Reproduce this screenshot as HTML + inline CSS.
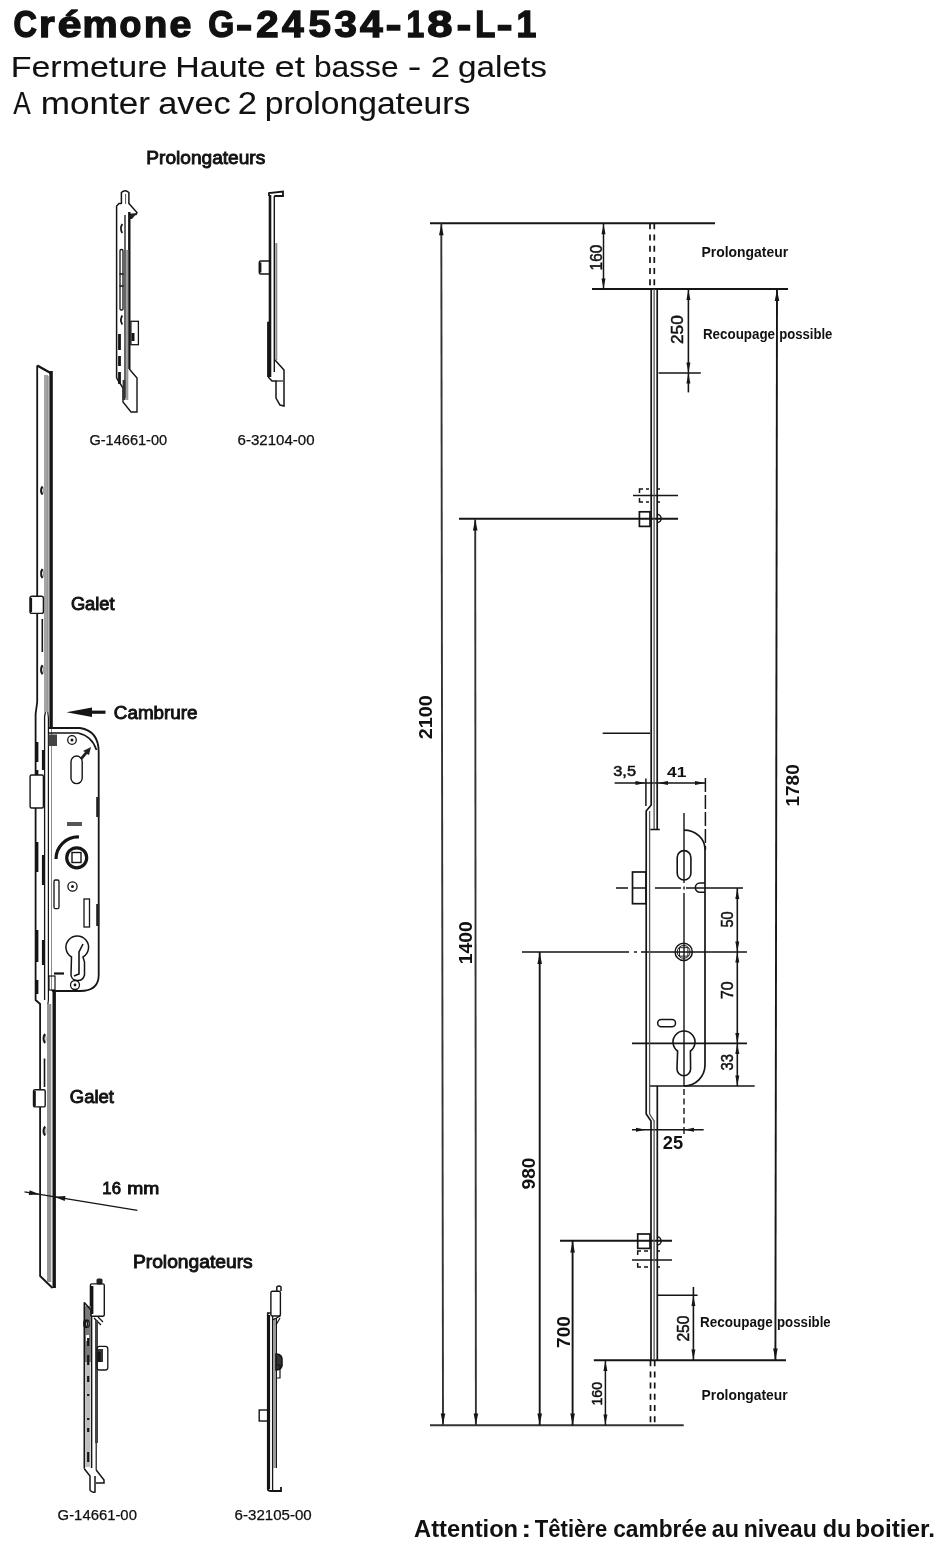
<!DOCTYPE html><html><head><meta charset="utf-8"><style>
html,body{margin:0;padding:0;background:#fff;width:940px;height:1556px;overflow:hidden}
svg{display:block;filter:grayscale(1)}
text{font-family:"Liberation Sans",sans-serif;fill:#111;-webkit-font-smoothing:antialiased}
</style></head><body>
<svg width="940" height="1556" viewBox="0 0 940 1556">
<rect width="940" height="1556" fill="#fff"/>
<text x="13.46" y="37.0" font-size="36.2" font-weight="bold" textLength="23.38" lengthAdjust="spacingAndGlyphs" stroke="#111" stroke-width="1.4">C</text>
<text x="38.96" y="37.0" font-size="36.2" font-weight="bold" textLength="15.67" lengthAdjust="spacingAndGlyphs" stroke="#111" stroke-width="1.4">r</text>
<text x="57.69" y="37.0" font-size="36.2" font-weight="bold" textLength="23.68" lengthAdjust="spacingAndGlyphs" stroke="#111" stroke-width="1.4">é</text>
<text x="82.61" y="37.0" font-size="36.2" font-weight="bold" textLength="35.12" lengthAdjust="spacingAndGlyphs" stroke="#111" stroke-width="1.4">m</text>
<text x="119.44" y="37.0" font-size="36.2" font-weight="bold" textLength="21.83" lengthAdjust="spacingAndGlyphs" stroke="#111" stroke-width="1.4">o</text>
<text x="144.10" y="37.0" font-size="36.2" font-weight="bold" textLength="23.28" lengthAdjust="spacingAndGlyphs" stroke="#111" stroke-width="1.4">n</text>
<text x="169.61" y="37.0" font-size="36.2" font-weight="bold" textLength="21.85" lengthAdjust="spacingAndGlyphs" stroke="#111" stroke-width="1.4">e</text>
<text x="208.32" y="37.0" font-size="36.2" font-weight="bold" textLength="26.01" lengthAdjust="spacingAndGlyphs" stroke="#111" stroke-width="1.4">G</text>
<text x="236.06" y="37.0" font-size="36.2" font-weight="bold" textLength="16.18" lengthAdjust="spacingAndGlyphs" stroke="#111" stroke-width="1.4">-</text>
<text x="256.21" y="37.0" font-size="36.2" font-weight="bold" textLength="22.35" lengthAdjust="spacingAndGlyphs" stroke="#111" stroke-width="1.4">2</text>
<text x="282.06" y="37.0" font-size="36.2" font-weight="bold" textLength="21.61" lengthAdjust="spacingAndGlyphs" stroke="#111" stroke-width="1.4">4</text>
<text x="308.55" y="37.0" font-size="36.2" font-weight="bold" textLength="22.40" lengthAdjust="spacingAndGlyphs" stroke="#111" stroke-width="1.4">5</text>
<text x="334.53" y="37.0" font-size="36.2" font-weight="bold" textLength="22.40" lengthAdjust="spacingAndGlyphs" stroke="#111" stroke-width="1.4">3</text>
<text x="359.94" y="37.0" font-size="36.2" font-weight="bold" textLength="22.64" lengthAdjust="spacingAndGlyphs" stroke="#111" stroke-width="1.4">4</text>
<text x="385.72" y="37.0" font-size="36.2" font-weight="bold" textLength="15.66" lengthAdjust="spacingAndGlyphs" stroke="#111" stroke-width="1.4">-</text>
<text x="406.53" y="37.0" font-size="36.2" font-weight="bold" textLength="17.68" lengthAdjust="spacingAndGlyphs" stroke="#111" stroke-width="1.4">1</text>
<text x="427.19" y="37.0" font-size="36.2" font-weight="bold" textLength="25.20" lengthAdjust="spacingAndGlyphs" stroke="#111" stroke-width="1.4">8</text>
<text x="456.66" y="37.0" font-size="36.2" font-weight="bold" textLength="14.36" lengthAdjust="spacingAndGlyphs" stroke="#111" stroke-width="1.4">-</text>
<text x="475.24" y="37.0" font-size="36.2" font-weight="bold" textLength="20.09" lengthAdjust="spacingAndGlyphs" stroke="#111" stroke-width="1.4">L</text>
<text x="496.72" y="37.0" font-size="36.2" font-weight="bold" textLength="15.66" lengthAdjust="spacingAndGlyphs" stroke="#111" stroke-width="1.4">-</text>
<text x="516.49" y="37.0" font-size="36.2" font-weight="bold" textLength="19.83" lengthAdjust="spacingAndGlyphs" stroke="#111" stroke-width="1.4">1</text>
<text x="10.71" y="76.5" font-size="30" textLength="156.71" lengthAdjust="spacingAndGlyphs" stroke="#111" stroke-width="0.1">Fermeture</text>
<text x="175.32" y="76.5" font-size="30" textLength="90.46" lengthAdjust="spacingAndGlyphs" stroke="#111" stroke-width="0.1">Haute</text>
<text x="274.47" y="76.5" font-size="30" textLength="30.56" lengthAdjust="spacingAndGlyphs" stroke="#111" stroke-width="0.1">et</text>
<text x="313.92" y="76.5" font-size="30" textLength="84.66" lengthAdjust="spacingAndGlyphs" stroke="#111" stroke-width="0.1">basse</text>
<text x="407.70" y="76.5" font-size="30" textLength="13.59" lengthAdjust="spacingAndGlyphs" stroke="#111" stroke-width="0.1">-</text>
<text x="430.67" y="76.5" font-size="30" textLength="19.29" lengthAdjust="spacingAndGlyphs" stroke="#111" stroke-width="0.1">2</text>
<text x="458.11" y="76.5" font-size="30" textLength="88.76" lengthAdjust="spacingAndGlyphs" stroke="#111" stroke-width="0.1">galets</text>
<text x="13.20" y="113.8" font-size="30.5" textLength="17.48" lengthAdjust="spacingAndGlyphs" stroke="#111" stroke-width="0.1">A</text>
<text x="40.70" y="113.8" font-size="30.5" textLength="109.34" lengthAdjust="spacingAndGlyphs" stroke="#111" stroke-width="0.1">monter</text>
<text x="158.19" y="113.8" font-size="30.5" textLength="72.51" lengthAdjust="spacingAndGlyphs" stroke="#111" stroke-width="0.1">avec</text>
<text x="237.70" y="113.8" font-size="30.5" textLength="19.26" lengthAdjust="spacingAndGlyphs" stroke="#111" stroke-width="0.1">2</text>
<text x="264.80" y="113.8" font-size="30.5" textLength="205.46" lengthAdjust="spacingAndGlyphs" stroke="#111" stroke-width="0.1">prolongateurs</text>
<text x="146.33" y="163.8" font-size="18.3" textLength="118.93" lengthAdjust="spacingAndGlyphs" stroke="#111" stroke-width="0.9">Prolongateurs</text>
<text x="89.45" y="445.2" font-size="14" textLength="77.74" lengthAdjust="spacingAndGlyphs" stroke="#111" stroke-width="0.25">G-14661-00</text>
<text x="237.53" y="445.2" font-size="14" textLength="77.01" lengthAdjust="spacingAndGlyphs" stroke="#111" stroke-width="0.25">6-32104-00</text>
<text x="70.90" y="609.6" font-size="17.7" textLength="43.65" lengthAdjust="spacingAndGlyphs" stroke="#111" stroke-width="0.9">Galet</text>
<text x="113.89" y="718.6" font-size="18" textLength="83.63" lengthAdjust="spacingAndGlyphs" stroke="#111" stroke-width="0.9">Cambrure</text>
<text x="69.89" y="1103.4" font-size="17.7" textLength="44.06" lengthAdjust="spacingAndGlyphs" stroke="#111" stroke-width="0.9">Galet</text>
<text x="102.37" y="1193.8" font-size="17" textLength="18.58" lengthAdjust="spacingAndGlyphs" stroke="#111" stroke-width="0.9">16</text>
<text x="127.23" y="1193.8" font-size="17" textLength="32.09" lengthAdjust="spacingAndGlyphs" stroke="#111" stroke-width="0.9">mm</text>
<text x="132.92" y="1268.2" font-size="18.3" textLength="119.85" lengthAdjust="spacingAndGlyphs" stroke="#111" stroke-width="0.9">Prolongateurs</text>
<text x="57.64" y="1520.3" font-size="14" textLength="79.27" lengthAdjust="spacingAndGlyphs" stroke="#111" stroke-width="0.25">G-14661-00</text>
<text x="234.63" y="1520.3" font-size="14" textLength="77.11" lengthAdjust="spacingAndGlyphs" stroke="#111" stroke-width="0.25">6-32105-00</text>
<text x="414.08" y="1537.2" font-size="24" font-weight="bold" textLength="104.03" lengthAdjust="spacingAndGlyphs">Attention</text>
<text x="521.37" y="1537.2" font-size="24" font-weight="bold" textLength="10.05" lengthAdjust="spacingAndGlyphs">:</text>
<text x="534.77" y="1537.2" font-size="24" font-weight="bold" textLength="72.39" lengthAdjust="spacingAndGlyphs">Têtière</text>
<text x="613.17" y="1537.2" font-size="24" font-weight="bold" textLength="93.64" lengthAdjust="spacingAndGlyphs">cambrée</text>
<text x="711.69" y="1537.2" font-size="24" font-weight="bold" textLength="27.17" lengthAdjust="spacingAndGlyphs">au</text>
<text x="743.66" y="1537.2" font-size="24" font-weight="bold" textLength="73.11" lengthAdjust="spacingAndGlyphs">niveau</text>
<text x="822.82" y="1537.2" font-size="24" font-weight="bold" textLength="28.61" lengthAdjust="spacingAndGlyphs">du</text>
<text x="855.18" y="1537.2" font-size="24" font-weight="bold" textLength="79.83" lengthAdjust="spacingAndGlyphs">boitier.</text>
<text x="701.44" y="256.5" font-size="14.5" font-weight="bold" textLength="86.76" lengthAdjust="spacingAndGlyphs">Prolongateur</text>
<text x="702.96" y="338.5" font-size="14" font-weight="bold" textLength="72.09" lengthAdjust="spacingAndGlyphs">Recoupage</text>
<text x="779.18" y="338.5" font-size="14" font-weight="bold" textLength="53.22" lengthAdjust="spacingAndGlyphs">possible</text>
<text x="700.06" y="1327" font-size="14" font-weight="bold" textLength="72.70" lengthAdjust="spacingAndGlyphs">Recoupage</text>
<text x="776.97" y="1327" font-size="14" font-weight="bold" textLength="53.73" lengthAdjust="spacingAndGlyphs">possible</text>
<text x="701.55" y="1400.3" font-size="14.5" font-weight="bold" textLength="86.05" lengthAdjust="spacingAndGlyphs">Prolongateur</text>
<line x1="430" y1="223.3" x2="715" y2="223.3" stroke="#151515" stroke-width="1.9"/>
<line x1="592" y1="289" x2="788" y2="289" stroke="#151515" stroke-width="1.9"/>
<line x1="633" y1="495.5" x2="678" y2="495.5" stroke="#151515" stroke-width="1.6"/>
<line x1="459" y1="518.7" x2="678" y2="518.7" stroke="#151515" stroke-width="1.9"/>
<line x1="602.7" y1="733.2" x2="650.3" y2="733.2" stroke="#151515" stroke-width="1.6"/>
<line x1="614.6" y1="783" x2="705.4" y2="783" stroke="#151515" stroke-width="1.5"/>
<path d="M616,888 L628,888 M633,888 L647,888 M655,888 L681,888 M686,888 L743,888" stroke="#151515" stroke-width="1.5" fill="none" />
<path d="M522,952 L629,952 M634,952 L637,952 M641,952 L747,952" stroke="#151515" stroke-width="1.6" fill="none" />
<line x1="632" y1="1043.4" x2="747" y2="1043.4" stroke="#151515" stroke-width="1.6"/>
<line x1="650" y1="1086" x2="754.7" y2="1086" stroke="#151515" stroke-width="1.6"/>
<line x1="632" y1="1129.7" x2="703.7" y2="1129.7" stroke="#151515" stroke-width="1.5"/>
<line x1="560" y1="1240.7" x2="672" y2="1240.7" stroke="#151515" stroke-width="1.9"/>
<line x1="632" y1="1260" x2="672" y2="1260" stroke="#151515" stroke-width="1.6"/>
<line x1="657" y1="1295.2" x2="697.6" y2="1295.2" stroke="#151515" stroke-width="1.6"/>
<line x1="593.8" y1="1360.2" x2="786" y2="1360.2" stroke="#151515" stroke-width="1.9"/>
<line x1="430" y1="1425.3" x2="683.7" y2="1425.3" stroke="#333" stroke-width="1.9"/>
<line x1="441.3" y1="223.3" x2="443" y2="1425.3" stroke="#333" stroke-width="1.9"/>
<polygon points="441.3,224.3 439.0,235.3 443.6,235.3" fill="#151515"/>
<polygon points="443.0,1424.5 440.7,1413.5 445.3,1413.5" fill="#151515"/>
<line x1="475.2" y1="518.7" x2="475.9" y2="1425.3" stroke="#333" stroke-width="1.9"/>
<polygon points="475.2,519.5 472.9,530.5 477.5,530.5" fill="#151515"/>
<polygon points="475.9,1424.5 473.6,1413.5 478.2,1413.5" fill="#151515"/>
<line x1="539.7" y1="952" x2="539.7" y2="1425.3" stroke="#151515" stroke-width="1.9"/>
<polygon points="539.7,953.0 537.4,964.0 542.0,964.0" fill="#151515"/>
<polygon points="539.7,1424.5 537.4,1413.5 542.0,1413.5" fill="#151515"/>
<line x1="572.6" y1="1240.7" x2="572.6" y2="1425.3" stroke="#151515" stroke-width="1.9"/>
<polygon points="572.6,1241.5 570.3,1252.5 574.9,1252.5" fill="#151515"/>
<polygon points="572.6,1424.5 570.3,1413.5 574.9,1413.5" fill="#151515"/>
<line x1="777" y1="289" x2="775.4" y2="1360.2" stroke="#151515" stroke-width="1.9"/>
<polygon points="777.0,290.0 774.7,301.0 779.3,301.0" fill="#151515"/>
<polygon points="775.4,1359.5 773.1,1348.5 777.7,1348.5" fill="#151515"/>
<line x1="603.5" y1="223.3" x2="603.5" y2="289" stroke="#151515" stroke-width="1.5"/>
<polygon points="603.5,224.3 601.5,234.3 605.5,234.3" fill="#151515"/>
<polygon points="603.5,288.5 601.5,278.5 605.5,278.5" fill="#151515"/>
<line x1="688.4" y1="289" x2="688.4" y2="392.4" stroke="#151515" stroke-width="1.6"/>
<polygon points="688.4,290.0 686.4,300.0 690.4,300.0" fill="#151515"/>
<polygon points="688.4,372.5 686.4,362.5 690.4,362.5" fill="#151515"/>
<polygon points="688.4,373.5 686.4,383.5 690.4,383.5" fill="#151515"/>
<line x1="658.6" y1="373" x2="700.8" y2="373" stroke="#151515" stroke-width="1.6"/>
<line x1="693.4" y1="1287" x2="693.4" y2="1360.2" stroke="#151515" stroke-width="1.6"/>
<polygon points="693.4,1296.0 691.4,1306.0 695.4,1306.0" fill="#151515"/>
<polygon points="693.4,1359.5 691.4,1349.5 695.4,1349.5" fill="#151515"/>
<line x1="605.4" y1="1360.2" x2="605.4" y2="1425.3" stroke="#151515" stroke-width="1.5"/>
<polygon points="605.4,1361.0 603.4,1371.0 607.4,1371.0" fill="#151515"/>
<polygon points="605.4,1424.5 603.4,1414.5 607.4,1414.5" fill="#151515"/>
<line x1="737.3" y1="888" x2="737.3" y2="1086" stroke="#151515" stroke-width="1.6"/>
<polygon points="737.3,889.0 735.3,899.0 739.3,899.0" fill="#151515"/>
<polygon points="737.3,951.5 735.3,941.5 739.3,941.5" fill="#151515"/>
<polygon points="737.3,952.5 735.3,962.5 739.3,962.5" fill="#151515"/>
<polygon points="737.3,1042.9 735.3,1032.9 739.3,1032.9" fill="#151515"/>
<polygon points="737.3,1043.9 735.3,1053.9 739.3,1053.9" fill="#151515"/>
<polygon points="737.3,1085.5 735.3,1075.5 739.3,1075.5" fill="#151515"/>
<polygon points="645.5,783.0 635.5,781.0 635.5,785.0" fill="#151515"/>
<polygon points="658.0,783.0 668.0,781.0 668.0,785.0" fill="#151515"/>
<polygon points="705.0,783.0 695.0,781.0 695.0,785.0" fill="#151515"/>
<polygon points="646.0,1129.7 636.0,1127.7 636.0,1131.7" fill="#151515"/>
<polygon points="684.0,1129.7 694.0,1127.7 694.0,1131.7" fill="#151515"/>
<line x1="645.9" y1="778.6" x2="645.9" y2="806" stroke="#151515" stroke-width="1.5"/>
<line x1="705.4" y1="778" x2="705.4" y2="850" stroke="#151515" stroke-width="1.5" stroke-dasharray="14,3"/>
<path d="M684,813 L684,883 M684,886.5 L684,889.5 M684,893 L684,1086 M684,1089 L684,1095 M684,1098.5 L684,1104.5 M684,1108 L684,1114 M684,1117.5 L684,1123.5 M684,1127 L684,1134" stroke="#151515" stroke-width="1.4" fill="none" />
<line x1="650" y1="223.3" x2="650" y2="289" stroke="#151515" stroke-width="1.7" stroke-dasharray="6,5.2"/>
<line x1="654.3" y1="223.3" x2="654.3" y2="289" stroke="#151515" stroke-width="1.7" stroke-dasharray="6,5.2"/>
<line x1="650.5" y1="1360.2" x2="650.5" y2="1425.3" stroke="#151515" stroke-width="1.7" stroke-dasharray="6,5.2"/>
<line x1="654.7" y1="1360.2" x2="654.7" y2="1425.3" stroke="#151515" stroke-width="1.7" stroke-dasharray="6,5.2"/>
<path d="M651.2,289 L651.2,805 L646.2,811 L646.2,1114 L651,1121 L651,1360.2" stroke="#151515" stroke-width="1.7" fill="none" />
<path d="M657.2,289 L657.2,829.5" stroke="#151515" stroke-width="1.7" fill="none" />
<path d="M650.3,829.5 L659.8,829.5" stroke="#151515" stroke-width="1.6" fill="none" />
<path d="M649.6,811 L649.6,1114 L654.1,1121 L654.1,1360" stroke="#555" stroke-width="1.3" fill="none" />
<line x1="654.1" y1="289" x2="654.1" y2="829" stroke="#555" stroke-width="1.3"/>
<line x1="657.3" y1="1086" x2="657.3" y2="1360.2" stroke="#151515" stroke-width="1.7"/>
<path d="M684,830.2 A21,19 0 0 1 705,849 L705,1065 A21,21 0 0 1 684,1086" stroke="#151515" stroke-width="1.7" fill="none" />
<rect x="677.2" y="850.6" width="13.7" height="29.4" rx="6.8" fill="none" stroke="#151515" stroke-width="1.6"/>
<path d="M705,883 L700,883 A4.6,4.6 0 0 0 700,892.3 L705,892.3" stroke="#151515" stroke-width="1.5" fill="none" />
<circle cx="683.7" cy="951.9" r="8.6" fill="none" stroke="#151515" stroke-width="1.5"/>
<circle cx="683.7" cy="951.9" r="6.4" fill="none" stroke="#151515" stroke-width="1"/>
<rect x="679.5" y="947.7" width="8.4" height="8.4" fill="none" stroke="#151515" stroke-width="0.9"/>
<rect x="657.7" y="1019.6" width="17.8" height="7.1" rx="3.5" fill="none" stroke="#151515" stroke-width="1.5"/>
<path d="M677.6,1051 A11,11 0 1 1 690.4,1051 L690.6,1069 A6.8,6.8 0 0 1 677,1069 Z" stroke="#151515" stroke-width="1.6" fill="none" />
<rect x="639.4" y="511.8" width="10.6" height="14.6" fill="none" stroke="#151515" stroke-width="1.7"/>
<path d="M639.5,493 L639.5,489 L643,489 M646,489 L649,489 M657.5,489 L660,489 M639.5,498 L639.5,502 L643,502 M646,502 L649,502 M657.5,502 L660,502" stroke="#151515" stroke-width="1.5" fill="none" />
<path d="M657.5,514.5 A3.6,4 0 0 1 657.5,522.5" stroke="#151515" stroke-width="1.5" fill="none" />
<rect x="632.5" y="872" width="13.5" height="31.7" fill="none" stroke="#151515" stroke-width="1.7"/>
<rect x="637.7" y="1234" width="12.3" height="14.4" fill="none" stroke="#151515" stroke-width="1.7"/>
<path d="M637.7,1255 L637.7,1251 L641,1251 M644,1251 L648,1251 M657.5,1251 L660,1251 M637.7,1263 L637.7,1267 L641,1267 M644,1267 L648,1267 M657.5,1267 L660,1267" stroke="#151515" stroke-width="1.5" fill="none" />
<path d="M657.5,1237 A3.6,4 0 0 1 657.5,1245" stroke="#151515" stroke-width="1.5" fill="none" />
<text transform="translate(602.4,270.38) rotate(-90)" x="0" y="0" font-size="16" textLength="25.54" lengthAdjust="spacingAndGlyphs" stroke="#111" stroke-width="0.5">160</text>
<text transform="translate(683.2,344.01) rotate(-90)" x="0" y="0" font-size="16" textLength="28.76" lengthAdjust="spacingAndGlyphs" stroke="#111" stroke-width="0.5">250</text>
<text transform="translate(432,739.37) rotate(-90)" x="0" y="0" font-size="18.5" font-weight="bold" textLength="44.00" lengthAdjust="spacingAndGlyphs">2100</text>
<text transform="translate(472,964.18) rotate(-90)" x="0" y="0" font-size="18.5" font-weight="bold" textLength="42.99" lengthAdjust="spacingAndGlyphs">1400</text>
<text transform="translate(535.4,1189.44) rotate(-90)" x="0" y="0" font-size="18.5" font-weight="bold" textLength="31.81" lengthAdjust="spacingAndGlyphs">980</text>
<text transform="translate(570,1347.98) rotate(-90)" x="0" y="0" font-size="18.5" font-weight="bold" textLength="31.94" lengthAdjust="spacingAndGlyphs">700</text>
<text transform="translate(799,806.56) rotate(-90)" x="0" y="0" font-size="18.5" font-weight="bold" textLength="42.36" lengthAdjust="spacingAndGlyphs">1780</text>
<text transform="translate(733.4,927.57) rotate(-90)" x="0" y="0" font-size="16" textLength="16.18" lengthAdjust="spacingAndGlyphs" stroke="#111" stroke-width="0.5">50</text>
<text transform="translate(733.4,999.05) rotate(-90)" x="0" y="0" font-size="16" textLength="17.72" lengthAdjust="spacingAndGlyphs" stroke="#111" stroke-width="0.5">70</text>
<text transform="translate(733.4,1070.38) rotate(-90)" x="0" y="0" font-size="16" textLength="16.50" lengthAdjust="spacingAndGlyphs" stroke="#111" stroke-width="0.5">33</text>
<text transform="translate(689.3,1341.61) rotate(-90)" x="0" y="0" font-size="16.5" textLength="26.11" lengthAdjust="spacingAndGlyphs" stroke="#111" stroke-width="0.5">250</text>
<text transform="translate(602.1,1405.53) rotate(-90)" x="0" y="0" font-size="15.5" textLength="23.69" lengthAdjust="spacingAndGlyphs" stroke="#111" stroke-width="0.5">160</text>
<text x="613.24" y="776" font-size="14.5" textLength="22.77" lengthAdjust="spacingAndGlyphs" stroke="#111" stroke-width="0.5">3,5</text>
<text x="667.11" y="777" font-size="15" font-weight="bold" textLength="19.24" lengthAdjust="spacingAndGlyphs">41</text>
<text x="662.85" y="1149.4" font-size="17.5" font-weight="bold" textLength="20.34" lengthAdjust="spacingAndGlyphs">25</text>
<path d="M37.2,365.5 L51.5,373.5" stroke="#151515" stroke-width="2.4" fill="none" />
<path d="M37.2,365.5 L37.2,702 L35.6,714 L35.6,1000 L40.1,1004 L40.1,1276 L52.5,1288" stroke="#151515" stroke-width="1.8" fill="none" />
<rect x="44" y="375" width="4" height="337" fill="#a4a4a4"/>
<line x1="48.2" y1="376" x2="48.2" y2="712" stroke="#666" stroke-width="0.7"/>
<line x1="51.1" y1="371" x2="51.1" y2="728" stroke="#151515" stroke-width="3.4"/>
<path d="M45.5,712 L44.6,716 L44.6,1000" stroke="#151515" stroke-width="1.3" fill="none" />
<path d="M47.8,712 L48.4,718 L48.4,1000 L47.9,1004 L47.9,1280" stroke="#151515" stroke-width="1.2" fill="none" />
<line x1="51.5" y1="728" x2="51.5" y2="991" stroke="#8a8a8a" stroke-width="1.0"/>
<rect x="47" y="1004" width="4.3" height="278" fill="#959595"/>
<line x1="54.2" y1="991" x2="54.2" y2="1288" stroke="#151515" stroke-width="3.4"/>
<path d="M49,728 L80,728 Q98.7,731 98.7,752 L98.7,975 Q98.7,991 80,991 L52,991" stroke="#151515" stroke-width="1.8" fill="none" />
<path d="M49,733 L78,733 Q92,736 96.5,750" stroke="#151515" stroke-width="1.7" fill="none" />
<rect x="48.5" y="734.5" width="8.5" height="11.5" fill="#444"/>
<circle cx="72" cy="740" r="4.3" fill="none" stroke="#151515" stroke-width="1.3"/><circle cx="72" cy="740" r="1.5" fill="#151515"/>
<rect x="71" y="756" width="11.2" height="27.6" rx="5.6" fill="none" stroke="#151515" stroke-width="1.4"/>
<polygon points="80,758 85,752 83,751 91,747 89,755 87,754 82,760" fill="#222"/>
<rect x="67" y="822" width="15" height="4" fill="#555"/>
<rect x="96.2" y="797" width="3" height="20" fill="#222"/>
<rect x="96.2" y="904" width="3" height="22" fill="#222"/>
<circle cx="76.7" cy="857.8" r="10" fill="none" stroke="#151515" stroke-width="3.2"/>
<rect x="72" y="852.5" width="9" height="10" fill="none" stroke="#151515" stroke-width="1.4"/>
<path d="M56,859 A22,22 0 0 1 79,837" stroke="#151515" stroke-width="3.2" fill="none" />
<rect x="54" y="880" width="5" height="28.7" rx="1.5" fill="none" stroke="#151515" stroke-width="1.3"/>
<circle cx="72.5" cy="886.5" r="4.6" fill="none" stroke="#151515" stroke-width="1.3"/><circle cx="72.5" cy="886.5" r="1.5" fill="#151515"/>
<rect x="84" y="899" width="5.5" height="28" fill="none" stroke="#151515" stroke-width="1.3"/>
<path d="M71.5,957 A11.3,11.3 0 1 1 83,957 L84.5,962 L84.5,975 Q83,981 77,980.5 Q71.5,980 71,975 Z" stroke="#151515" stroke-width="1.5" fill="none" />
<path d="M83,944 L79,952 L79,974 L74,976" stroke="#151515" stroke-width="1.6" fill="none" />
<circle cx="75" cy="985" r="4.5" fill="none" stroke="#151515" stroke-width="1.3"/><circle cx="75" cy="985" r="1.4" fill="#151515"/>
<path d="M54,973.5 L64,973.5" stroke="#151515" stroke-width="2.2" fill="none" />
<rect x="49" y="976" width="6" height="14" fill="none" stroke="#151515" stroke-width="1.2"/>
<ellipse cx="42" cy="490.5" rx="1.6" ry="4" fill="none" stroke="#999" stroke-width="1.0"/>
<path d="M42.5,486.5 Q39.8,490.5 42.5,494.5" stroke="#151515" stroke-width="1.9" fill="none" />
<ellipse cx="42" cy="573.6" rx="1.6" ry="4.5" fill="none" stroke="#999" stroke-width="1.0"/>
<path d="M42.5,569.1 Q39.8,573.6 42.5,578.1" stroke="#151515" stroke-width="1.9" fill="none" />
<ellipse cx="42" cy="669.7" rx="1.6" ry="4.5" fill="none" stroke="#999" stroke-width="1.0"/>
<path d="M42.5,665.2 Q39.8,669.7 42.5,674.2" stroke="#151515" stroke-width="1.9" fill="none" />
<ellipse cx="44.5" cy="1038.6" rx="1.6" ry="4.5" fill="none" stroke="#999" stroke-width="1.0"/>
<path d="M45.0,1034.1 Q42.3,1038.6 45.0,1043.1" stroke="#151515" stroke-width="1.9" fill="none" />
<ellipse cx="44.5" cy="1131" rx="1.6" ry="4.5" fill="none" stroke="#999" stroke-width="1.0"/>
<path d="M45.0,1126.5 Q42.3,1131 45.0,1135.5" stroke="#151515" stroke-width="1.9" fill="none" />
<line x1="42.3" y1="619" x2="42.3" y2="652" stroke="#151515" stroke-width="1.6"/>
<line x1="44.5" y1="1058.5" x2="44.5" y2="1087" stroke="#151515" stroke-width="1.6"/>
<line x1="37.2" y1="742" x2="37.2" y2="762" stroke="#151515" stroke-width="2.4"/>
<line x1="37.2" y1="770" x2="37.2" y2="790" stroke="#151515" stroke-width="2.4"/>
<line x1="37.2" y1="842" x2="37.2" y2="872" stroke="#151515" stroke-width="2.4"/>
<line x1="37.2" y1="930" x2="37.2" y2="962" stroke="#151515" stroke-width="2.4"/>
<line x1="37.2" y1="980" x2="37.2" y2="994" stroke="#151515" stroke-width="2.4"/>
<line x1="43" y1="750" x2="43" y2="770" stroke="#151515" stroke-width="2.2"/>
<line x1="43" y1="855" x2="43" y2="885" stroke="#151515" stroke-width="2.2"/>
<line x1="43" y1="940" x2="43" y2="965" stroke="#151515" stroke-width="2.2"/>
<rect x="30" y="596.2" width="13.4" height="17.2" rx="2" fill="#fff" stroke="#151515" stroke-width="1.4"/>
<line x1="31" y1="598" x2="31" y2="612" stroke="#151515" stroke-width="2.2"/>
<rect x="30.1" y="775" width="13.3" height="33" rx="1.5" fill="#fff" stroke="#151515" stroke-width="1.4"/>
<rect x="33.5" y="1089.8" width="11.7" height="17.1" rx="1.5" fill="#fff" stroke="#151515" stroke-width="1.4"/>
<line x1="34.5" y1="1091" x2="34.5" y2="1106" stroke="#151515" stroke-width="2.6"/>
<line x1="24.5" y1="1191.9" x2="137.4" y2="1210.4" stroke="#151515" stroke-width="1.4"/>
<polygon points="40.1,1194.5 28.8,1195.1 29.6,1190.2" fill="#151515"/>
<polygon points="54.2,1196.8 65.5,1196.1 64.7,1201.0" fill="#151515"/>
<line x1="85" y1="712.2" x2="105.5" y2="712.2" stroke="#151515" stroke-width="3.2"/>
<polygon points="66.4,712.2 92,707.5 92,717" fill="#151515"/>
<path d="M121.4,204 L121.4,192.5 Q125,189 128.9,192.5 L128.9,204" stroke="#151515" stroke-width="1.5" fill="none" />
<line x1="125.6" y1="194" x2="125.6" y2="204" stroke="#555" stroke-width="1.0"/>
<path d="M116.6,378 L116.6,206 L119,203.5 L121.4,203.5" stroke="#151515" stroke-width="1.5" fill="none" />
<path d="M128.9,203.5 L137,212.5 L136,214.5 L129.3,214.5" stroke="#151515" stroke-width="1.5" fill="none" />
<polygon points="129.3,214 137,213 132,219 129.3,219" fill="#222"/>
<line x1="129.3" y1="212" x2="129.3" y2="369" stroke="#151515" stroke-width="2.4"/>
<line x1="125" y1="215" x2="125" y2="398" stroke="#151515" stroke-width="1.3"/>
<line x1="127.2" y1="250" x2="127.2" y2="400" stroke="#9a9a9a" stroke-width="2.2"/>
<path d="M116.6,378 L123,388 L123,402 L131,412 L137,412 L137,378 L129.3,369" stroke="#151515" stroke-width="1.4" fill="none" />
<rect x="130.9" y="321.3" width="7.5" height="23.4" fill="none" stroke="#151515" stroke-width="1.3"/>
<line x1="133" y1="333" x2="133" y2="341" stroke="#151515" stroke-width="3"/>
<line x1="119.5" y1="334" x2="119.5" y2="350" stroke="#151515" stroke-width="2.8"/>
<line x1="119.5" y1="356" x2="119.5" y2="366" stroke="#151515" stroke-width="2.8"/>
<line x1="119.5" y1="372" x2="119.5" y2="384" stroke="#151515" stroke-width="2.8"/>
<path d="M122.3,224 Q119.5,228.5 122.3,233" stroke="#151515" stroke-width="1.8" fill="none" />
<rect x="120" y="249.5" width="3" height="60.5" rx="1.2" fill="none" stroke="#151515" stroke-width="1.3"/>
<path d="M119.5,274 L123.5,274 M119.5,286 L123.5,286" stroke="#151515" stroke-width="1.4" fill="none" />
<path d="M122.3,315.5 Q119.5,320 122.3,324.5" stroke="#151515" stroke-width="1.8" fill="none" />
<line x1="124" y1="380" x2="124" y2="400" stroke="#333" stroke-width="2.8"/>
<path d="M269,196 L269,193 L283,191.6 L283,196 L274.3,196" stroke="#151515" stroke-width="1.8" fill="none" />
<line x1="270" y1="195" x2="270" y2="377" stroke="#151515" stroke-width="2.6"/>
<line x1="274.3" y1="196" x2="274.3" y2="372" stroke="#151515" stroke-width="1.4"/>
<line x1="276.3" y1="243" x2="276.3" y2="360" stroke="#8a8a8a" stroke-width="2.0"/>
<line x1="268.2" y1="321.7" x2="268.2" y2="377" stroke="#151515" stroke-width="2.2"/>
<rect x="259.3" y="261" width="10.7" height="13" rx="1.5" fill="none" stroke="#151515" stroke-width="1.5"/>
<line x1="260.3" y1="262.5" x2="260.3" y2="272.5" stroke="#151515" stroke-width="2.2"/>
<path d="M268.2,377 L272,381 L276,381 L276,398 L280,405 L284,406 L284,370 L275,360" stroke="#151515" stroke-width="1.5" fill="none" />
<path d="M276,381 L283,381" stroke="#151515" stroke-width="1.2" fill="none" />
<rect x="96.5" y="1278.5" width="6" height="6" rx="1.5" fill="#222"/>
<rect x="90.4" y="1283.9" width="13.9" height="32.4" rx="1.5" fill="none" stroke="#151515" stroke-width="1.4"/>
<line x1="91.8" y1="1286" x2="91.8" y2="1314" stroke="#151515" stroke-width="3.2"/>
<rect x="84.3" y="1306" width="6.5" height="56" fill="#7a7a7a"/>
<ellipse cx="87.2" cy="1323.8" rx="2" ry="3.6" fill="#fff" stroke="#151515" stroke-width="1.4"/>
<rect x="86" y="1335" width="3" height="6" fill="#fff"/>
<rect x="97" y="1349" width="6" height="13" fill="#333"/>
<path d="M94,1318 L101,1325 M98,1317 L103,1322" stroke="#151515" stroke-width="1.3" fill="none" />
<path d="M84.3,1302.4 L91,1310 L91,1316" stroke="#151515" stroke-width="1.5" fill="none" />
<line x1="84.3" y1="1302.4" x2="84.3" y2="1468.7" stroke="#151515" stroke-width="1.6"/>
<line x1="91.6" y1="1316" x2="91.6" y2="1468" stroke="#151515" stroke-width="1.5"/>
<rect x="85.2" y="1362" width="4.8" height="105" fill="#bdbdbd"/>
<line x1="96.5" y1="1320" x2="96.5" y2="1443" stroke="#444" stroke-width="3.0"/>
<line x1="96.2" y1="1443" x2="96.2" y2="1470" stroke="#151515" stroke-width="1.2"/>
<rect x="97" y="1346.3" width="10.8" height="23.7" rx="2.5" fill="none" stroke="#151515" stroke-width="1.3"/>
<line x1="99" y1="1352" x2="99" y2="1362" stroke="#151515" stroke-width="3"/>
<ellipse cx="85.6" cy="1323.8" rx="1.8" ry="3.5" fill="none" stroke="#151515" stroke-width="1.4"/>
<line x1="88.2" y1="1338" x2="88.2" y2="1346" stroke="#151515" stroke-width="2.2"/>
<line x1="88.2" y1="1355" x2="88.2" y2="1365" stroke="#151515" stroke-width="2.2"/>
<line x1="88.2" y1="1376" x2="88.2" y2="1382" stroke="#151515" stroke-width="2.2"/>
<line x1="88.2" y1="1394" x2="88.2" y2="1396" stroke="#151515" stroke-width="2.2"/>
<line x1="88.2" y1="1418" x2="88.2" y2="1420" stroke="#151515" stroke-width="2.2"/>
<line x1="88.2" y1="1428" x2="88.2" y2="1432" stroke="#151515" stroke-width="2.2"/>
<line x1="88.2" y1="1452" x2="88.2" y2="1462" stroke="#151515" stroke-width="2.2"/>
<path d="M84.3,1468.7 L90,1476 L90,1490 Q91.5,1493 95,1492 L95,1476" stroke="#151515" stroke-width="1.5" fill="none" />
<path d="M96.2,1470 L104,1480 L104,1483 L96,1483" stroke="#151515" stroke-width="1.5" fill="none" />
<path d="M276.8,1291 L276.8,1287 Q279,1285 281,1287 L281,1291" stroke="#151515" stroke-width="1.5" fill="none" />
<rect x="270.9" y="1291.3" width="9.5" height="24.7" rx="1.5" fill="none" stroke="#151515" stroke-width="1.4"/>
<path d="M267.7,1489 L267.7,1313 L270.9,1313" stroke="#151515" stroke-width="1.6" fill="none" />
<line x1="268.6" y1="1315" x2="268.6" y2="1489" stroke="#151515" stroke-width="3.0"/>
<line x1="272.6" y1="1316" x2="272.6" y2="1490" stroke="#151515" stroke-width="1.3"/>
<rect x="273" y="1318" width="3.4" height="150" fill="#9a9a9a"/>
<line x1="276.5" y1="1318" x2="276.5" y2="1468" stroke="#151515" stroke-width="1.0"/>
<path d="M272.6,1320 L280.4,1316 M276,1325 L280,1318" stroke="#151515" stroke-width="1.2" fill="none" />
<path d="M276,1354 Q283,1354 282,1362 Q283,1370 276,1370 Z" stroke="#151515" stroke-width="1.6" fill="#333" />
<path d="M276,1365 L280,1365 L280,1378 L276,1378" stroke="#151515" stroke-width="1.2" fill="none" />
<rect x="259.2" y="1410" width="8.8" height="11" fill="none" stroke="#151515" stroke-width="1.4"/>
<path d="M267.7,1489 Q268,1491 271,1491 L281,1491 L281,1487" stroke="#151515" stroke-width="1.8" fill="none" />
</svg></body></html>
